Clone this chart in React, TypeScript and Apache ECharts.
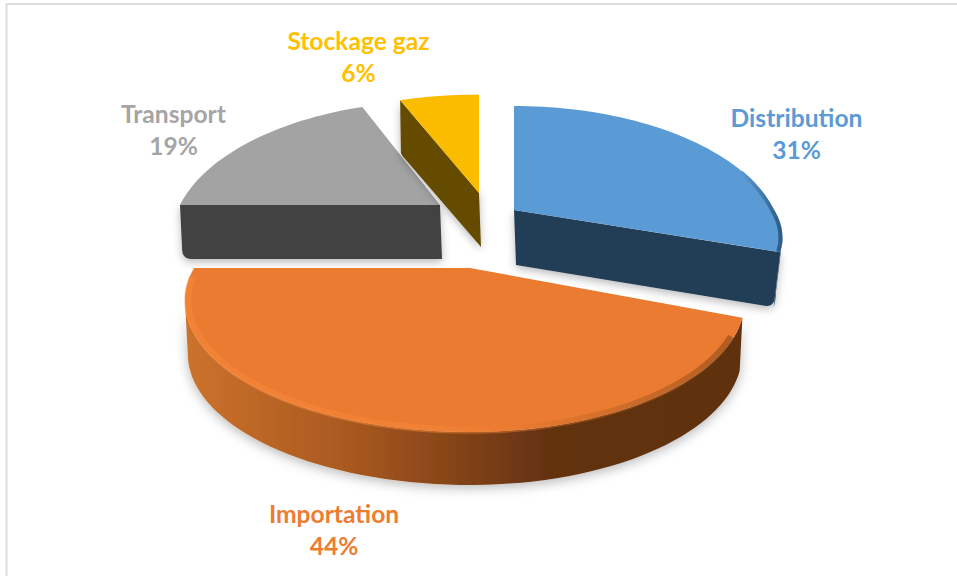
import React, { useEffect, useRef } from "react";
import * as echarts from "echarts";

const categories = ["Distribution", "Importation", "Transport", "Stockage gaz"];
const shares = [31, 44, 19, 6];
const labelColors = ["#5b9bd5", "#ed7d31", "#a5a5a5", "#ffc000"];

const FONT = "Lato, Carlito, 'Open Sans', sans-serif";
const PERSPECTIVE = 0.25;
const FRONT_FROM = 104.5;
const FRONT_TO = 255.5;

// Drawing layout of each exploded slice (anchor of the slice, radii, depth, paint)
const layout = [
  { ax: 514, ay: 210, rl: 257, rr: 260, bb: 130, bf: 104, depth: 55, narrow: 0.975, top: "#5b9bd5", cut: "#233e56", wall: "#233e56", order: 3, lx: 796.5, ly: 133.5 },
  { ax: 470, ay: 268, rl: 276, rr: 266, bb: 130, bf: 123, depth: 53, narrow: 0.99, top: "#ea7b30", cut: "#ea7b30", wall: "imp", order: 4, lx: 334, ly: 529.5 },
  { ax: 440, ay: 205, rl: 260, rr: 260, bb: 130, bf: 130, depth: 54, narrow: 0.99, top: "#a3a3a3", cut: "#424242", wall: "#424242", order: 1, lx: 173.5, ly: 129 },
  { ax: 479, ay: 193, rl: 264, rr: 264, bb: 123, bf: 123, depth: 54, narrow: 0.99, top: "#fbbc00", cut: "#654b00", wall: "#654b00", order: 2, lx: 358.5, ly: 56 },
];

const total = shares.reduce((a, b) => a + b, 0);

function project(l: any, deg: number, k = 1, drop = 0, narrow = 1): number[] {
  const t = (deg * Math.PI) / 180;
  const s = Math.sin(t);
  const c = Math.cos(t);
  const w = 1 / (1 + PERSPECTIVE * c);
  const rx = (s < 0 ? l.rl : l.rr) * k * narrow;
  const ry = (c >= 0 ? l.bb : l.bf) * k;
  return [l.ax + rx * s * w, l.ay - ry * c * w + drop];
}

function rim(l: any, a0: number, a1: number, k = 1, drop = 0, narrow = 1): number[][] {
  const pts: number[][] = [];
  const n = Math.max(2, Math.ceil((a1 - a0) / 2));
  for (let i = 0; i <= n; i++) pts.push(project(l, a0 + ((a1 - a0) * i) / n, k, drop, narrow));
  return pts;
}

// replaces corner b of the path a-b-c by a short rounded run
function roundCorner(a: number[], b: number[], c: number[], r: number): number[][] {
  const unit = (p: number[], q: number[]) => {
    const d = Math.hypot(q[0] - p[0], q[1] - p[1]);
    return [(q[0] - p[0]) / d, (q[1] - p[1]) / d];
  };
  const u = unit(b, a);
  const v = unit(b, c);
  const s = [b[0] + u[0] * r, b[1] + u[1] * r];
  const e = [b[0] + v[0] * r, b[1] + v[1] * r];
  const out: number[][] = [];
  for (let i = 0; i <= 6; i++) {
    const t = i / 6;
    out.push([
      (1 - t) * (1 - t) * s[0] + 2 * t * (1 - t) * b[0] + t * t * e[0],
      (1 - t) * (1 - t) * s[1] + 2 * t * (1 - t) * b[1] + t * t * e[1],
    ]);
  }
  return out;
}

function renderItem(params: any, api: any) {
  const i = params.dataIndex;
  const before = shares.slice(0, i).reduce((a, b) => a + b, 0);
  const a0 = (before / total) * 360;
  const a1 = ((before + api.value(0)) / total) * 360;
  const l = layout[i];
  const apex = [l.ax, l.ay];
  const z = l.order * 10;
  const shadow = { shadowBlur: 12, shadowColor: "rgba(0,0,0,0.28)", shadowOffsetY: 3 };

  const wallFill: any =
    l.wall === "imp"
      ? new echarts.graphic.LinearGradient(0, 0, 1, 0, [
          { offset: 0, color: "#cc722c" },
          { offset: 0.3, color: "#a8581f" },
          { offset: 0.66, color: "#623111" },
          { offset: 1, color: "#5e3010" },
        ])
      : l.wall;

  const rimTop = rim(l, a0, a1);
  const children: any[] = [];

  // outer wall: only the part that faces the viewer
  const w0 = Math.max(a0, FRONT_FROM);
  const w1 = Math.min(a1, FRONT_TO);
  if (w1 > w0) {
    children.push({
      type: "polygon",
      z2: z,
      shape: { points: [...rim(l, w0, w1), ...rim(l, w0, w1, 1, l.depth, l.narrow).reverse()] },
      style: { fill: wallFill, ...shadow },
    });
  }

  // visible cut face (the edge that turns towards the viewer)
  if (i !== 1) {
    const edgeDeg = i === 0 ? a1 : a0;
    const e = project(l, edgeDeg);
    const eb = project(l, edgeDeg, 1, l.depth, l.narrow);
    const ab = [apex[0] + 2, apex[1] + l.depth];
    children.push({
      type: "polygon",
      z2: z + 1,
      shape: { points: [apex, e, ...roundCorner(e, eb, ab, i === 3 ? 3 : 9), ab] },
      style: { fill: l.cut, ...shadow, shadowBlur: 8 },
    });
  }

  // top face
  children.push({
    type: "polygon",
    z2: z + 2,
    shape: { points: [apex, ...rimTop] },
    style: { fill: l.top },
  });

  // soft bevel on the rim
  if (i === 1) {
    const bevelStops = [
      { offset: 0, color: "#fb8b3c" },
      { offset: 0.45, color: "#f98a3b" },
      { offset: 0.6, color: "#ea7b30" },
      { offset: 0.82, color: "#a85820" },
      { offset: 1, color: "#6b370f" },
    ];
    children.push({
      type: "polyline",
      z2: z + 3,
      shape: { points: rim(l, a0 + 8, a1 - 4, 0.99) },
      style: { fill: "none", lineWidth: 7, opacity: 0.45, stroke: new echarts.graphic.LinearGradient(0, 0, 1, 0, bevelStops) },
    });
  } else if (i === 0) {
    children.push({
      type: "polyline",
      z2: z + 3,
      shape: { points: rim(l, a1 - 40, a1, 0.992) },
      style: {
        fill: "none",
        lineWidth: 4,
        stroke: new echarts.graphic.LinearGradient(0, 0, 1, 0, [
          { offset: 0, color: "#5b9bd5" },
          { offset: 1, color: "#2f5d86" },
        ]),
      },
    });
  }

  // label
  children.push({
    type: "text",
    z2: 100,
    x: l.lx,
    y: l.ly,
    style: {
      text: `${categories[i]}\n${api.value(0)}%`,
      fill: labelColors[i],
      fontFamily: FONT,
      fontWeight: "bold",
      fontSize: 24.6,
      lineHeight: 32,
      align: "center",
      verticalAlign: "middle",
    },
  });

  return { type: "group", children };
}

export default function App() {
  const ref = useRef<HTMLDivElement>(null);
  useEffect(() => {
    const chart = echarts.init(ref.current!, null, { renderer: "svg" });
    chart.setOption({
      animation: false,
      backgroundColor: "#ffffff",
      graphic: [
        { type: "line", shape: { x1: 6.5, y1: 4, x2: 6.5, y2: 576 }, style: { stroke: "#dcdcdc", lineWidth: 2 } },
        { type: "line", shape: { x1: 6, y1: 4, x2: 957, y2: 4 }, style: { stroke: "#dcdcdc", lineWidth: 2 } },
      ],
      series: [
        {
          type: "custom",
          coordinateSystem: "none",
          renderItem,
          data: shares.map((v) => [v]),
          encode: { value: 0 },
          clip: false,
        },
      ],
    });
    return () => chart.dispose();
  }, []);
  return <div ref={ref} style={{ position: "fixed", left: 0, top: 0, width: 957, height: 576 }} />;
}
